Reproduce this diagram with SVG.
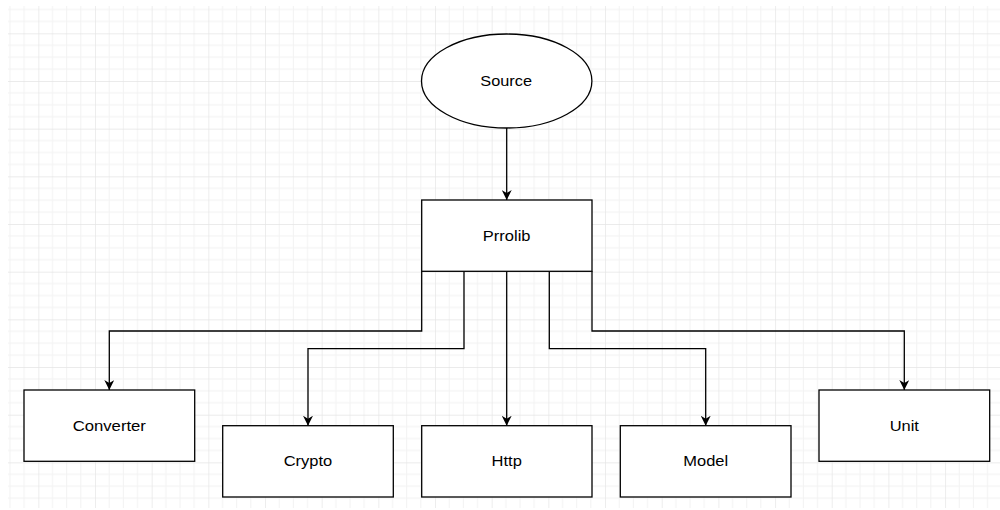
<svg xmlns="http://www.w3.org/2000/svg" width="1000" height="510" viewBox="0 0 1000 510">
  <style>
    .shape { fill: #ffffff; stroke: #000000; stroke-width: 1.3; }
    .label { font-family: "Liberation Sans", Arial, Helvetica, sans-serif; font-size: 14.3px; fill: #000000; text-anchor: middle; }
    .edge { fill: none; stroke: #000000; stroke-width: 1.3; marker-end: url(#arrow); }
    .minor { stroke: #f2f2f2; stroke-width: 1; }
    .major { stroke: #e4e4e4; stroke-width: 1.3; }
  </style>
  <defs>
    <!-- background grid: 4 minor cells per major cell -->
    <pattern id="grid" patternUnits="userSpaceOnUse" x="38.33" y="33.33" width="56.67" height="47.67">
      <line class="minor" x1="14.17" y1="0" x2="14.17" y2="47.67"/>
      <line class="minor" x1="28.33" y1="0" x2="28.33" y2="47.67"/>
      <line class="minor" x1="42.5" y1="0" x2="42.5" y2="47.67"/>
      <line class="minor" x1="0" y1="11.92" x2="56.67" y2="11.92"/>
      <line class="minor" x1="0" y1="23.83" x2="56.67" y2="23.83"/>
      <line class="minor" x1="0" y1="35.75" x2="56.67" y2="35.75"/>
      <line class="major" x1="0" y1="0" x2="0" y2="47.67"/>
      <line class="major" x1="0" y1="0" x2="56.67" y2="0"/>
    </pattern>
    <marker id="arrow" viewBox="0 0 10 10" refX="10" refY="5" markerWidth="10" markerHeight="10" markerUnits="userSpaceOnUse" orient="auto">
      <path d="M0,0 L10,5 L0,10 L3,5 Z" fill="#000000"/>
    </marker>
  </defs>

  <rect x="0" y="0" width="1000" height="510" fill="#ffffff"/>
  <rect x="8" y="6" width="992" height="502" fill="url(#grid)"/>

  <g id="connectors">
    <path class="edge" d="M506.7,128 V200"/>
    <path class="edge" d="M421.7,271.3 V331 H109.3 V390"/>
    <path class="edge" d="M464,271.3 V348.7 H308 V425.7"/>
    <path class="edge" d="M506.7,271.3 V425.7"/>
    <path class="edge" d="M549.3,271.3 V348.7 H705.7 V425.7"/>
    <path class="edge" d="M592,271.3 V331 H904.3 V390"/>
  </g>

  <g id="source">
    <ellipse class="shape" cx="506.7" cy="81" rx="85.2" ry="47"/>
    <text class="label" x="506.2" y="86" textLength="51.7" lengthAdjust="spacingAndGlyphs">Source</text>
  </g>

  <g id="prrolib">
    <rect class="shape" x="421.7" y="200" width="170.3" height="71.3"/>
    <text class="label" x="506.7" y="240.5" textLength="47.7" lengthAdjust="spacingAndGlyphs">Prrolib</text>
  </g>

  <g id="converter">
    <rect class="shape" x="24" y="390" width="170.7" height="71.3"/>
    <text class="label" x="109.3" y="430.5" textLength="73.3" lengthAdjust="spacingAndGlyphs">Converter</text>
  </g>

  <g id="crypto">
    <rect class="shape" x="222.7" y="425.7" width="170.6" height="71.3"/>
    <text class="label" x="308" y="466.2" textLength="48.6" lengthAdjust="spacingAndGlyphs">Crypto</text>
  </g>

  <g id="http">
    <rect class="shape" x="421.7" y="425.7" width="170.3" height="71.3"/>
    <text class="label" x="506.7" y="466.2" textLength="30.3" lengthAdjust="spacingAndGlyphs">Http</text>
  </g>

  <g id="model">
    <rect class="shape" x="620.3" y="425.7" width="170.7" height="71.3"/>
    <text class="label" x="705.7" y="466.2" textLength="44.9" lengthAdjust="spacingAndGlyphs">Model</text>
  </g>

  <g id="unit">
    <rect class="shape" x="819" y="390" width="170.7" height="71.3"/>
    <text class="label" x="904.3" y="430.5" textLength="29.3" lengthAdjust="spacingAndGlyphs">Unit</text>
  </g>
</svg>
